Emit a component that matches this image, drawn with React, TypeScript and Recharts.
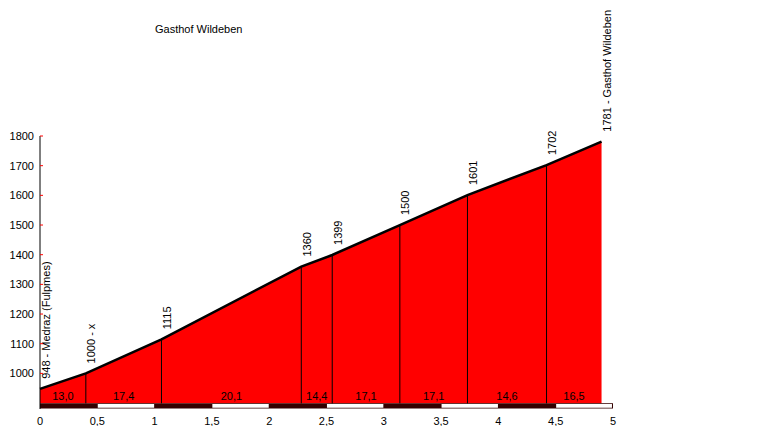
import React from "react";
import {
  ComposedChart,
  Area,
  XAxis,
  YAxis,
  ReferenceLine,
  ReferenceArea,
  Scatter,
} from "recharts";

// distance along the climb (km) of each waypoint
const kms = [0, 0.4, 1.06, 2.28, 2.55, 3.14, 3.73, 4.42, 4.9];
// elevation (m) of each waypoint
const elevations = [948, 1000, 1115, 1360, 1399, 1500, 1601, 1702, 1781];
// labels written above each waypoint
const pointLabels = [
  "948 - Medraz (Fulpmes)",
  "1000 - x",
  "1115",
  "1360",
  "1399",
  "1500",
  "1601",
  "1702",
  "1781 - Gasthof Wildeben",
];
// gradient (%) of each section
const gradients = ["13,0", "17,4", "20,1", "14,4", "17,1", "17,1", "14,6", "16,5"];
const xTicks = [0, 0.5, 1, 1.5, 2, 2.5, 3, 3.5, 4, 4.5, 5];
const yTicks = [1000, 1100, 1200, 1300, 1400, 1500, 1600, 1700, 1800];
const title = "Gasthof Wildeben";

const profile = kms.map((km, i) => ({ km, elev: elevations[i], label: pointLabels[i] }));
const sections = gradients.map((g, i) => ({
  km: (kms[i] + kms[i + 1]) / 2,
  gy: 910,
  label: g,
}));
const stripSegments = xTicks.slice(0, -1).map((t, i) => ({ x1: t, x2: xTicks[i + 1], white: i % 2 === 1 }));

const FONT = "'Liberation Sans', Arial, sans-serif";
const BASE = 899;

const YTick = (props: any) => {
  const { x, y, payload } = props;
  return (
    <g>
      <line x1={x} x2={x + 3} y1={y} y2={y} stroke="#ff0000" strokeWidth={1} />
      <text x={x - 6} y={y} dy={4} textAnchor="end" fontSize={11} fontFamily={FONT} fill="#000">
        {payload.value}
      </text>
    </g>
  );
};

const PointLabel = (props: any) => {
  const { cx, cy, payload, index } = props;
  if (cx == null || cy == null) return <g key={`pl-${index}`} />;
  return (
    <text
      key={`pl-${index}`}
      x={0}
      y={0}
      transform={`translate(${cx + 9.5},${cy - 10}) rotate(-90)`}
      fontSize={11}
      fontFamily={FONT}
      fill="#000"
      textAnchor="start"
    >
      {payload.label}
    </text>
  );
};

const SectionLabel = (props: any) => {
  const { cx, cy, payload } = props;
  return (
    <text x={cx} y={cy} textAnchor="middle" fontSize={11} fontFamily={FONT} fill="#000">
      {payload.label}
    </text>
  );
};

export default function App() {
  return (
    <div style={{ position: "relative", width: 764, height: 418 }}>
      <div
        style={{
          position: "absolute",
          left: 147,
          top: 14.5,
          fontFamily: FONT,
          fontSize: 11,
          lineHeight: "13px",
          color: "#000",
          whiteSpace: "nowrap",
        }}
      >
        {title}
      </div>
      <ComposedChart
        width={764}
        height={418}
        data={profile}
        margin={{ top: 128, right: 159, bottom: 0, left: 0 }}
      >
        <XAxis
          type="number"
          dataKey="km"
          domain={[0, 5]}
          ticks={xTicks}
          interval={0}
          axisLine={false}
          tickLine={false}
          tickSize={0}
          tickMargin={8}
          height={17}
          tickFormatter={(v: number) => String(v).replace(".", ",")}
          tick={{ fill: "#000", fontSize: 11, fontFamily: FONT }}
        />
        <YAxis
          type="number"
          domain={[880, 1800]}
          ticks={yTicks}
          interval={0}
          width={32}
          axisLine={{ stroke: "#000", strokeWidth: 1 }}
          tickLine={false}
          tickSize={0}
          tickMargin={0}
          tick={<YTick />}
        />
        <Area
          type="linear"
          dataKey="elev"
          baseValue={BASE}
          fill="#ff0000"
          fillOpacity={1}
          stroke="#000"
          strokeWidth={2.5}
          dot={PointLabel}
          activeDot={false}
          isAnimationActive={false}
        />
        {profile.slice(1, -1).map((p, i) => (
          <ReferenceLine
            key={`v-${i}`}
            segment={[
              { x: p.km, y: BASE },
              { x: p.km, y: p.elev },
            ]}
            stroke="#000"
            strokeWidth={1}
          />
        ))}
        <ReferenceArea x1={0} x2={5} y1={882} y2={BASE} fill="#330000" fillOpacity={1} stroke="none" />
        {stripSegments
          .filter((s) => s.white)
          .map((s, i) => (
            <ReferenceArea
              key={`w-${i}`}
              x1={s.x1 + 0.004}
              x2={s.x2 - (s.x2 === 5 ? 0.009 : 0.004)}
              y1={884.4}
              y2={896.6}
              fill="#ffffff"
              fillOpacity={1}
              stroke="none"
            />
          ))}
        <Scatter
          data={sections}
          dataKey="gy"
          shape={SectionLabel}
          isAnimationActive={false}
        />
      </ComposedChart>
    </div>
  );
}
